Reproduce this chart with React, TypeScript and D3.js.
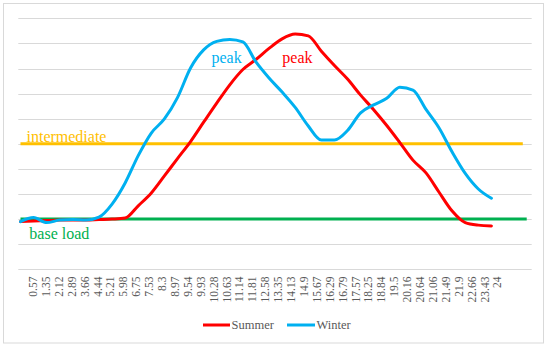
import React from "react";
import * as d3 from "d3";

const categories = ["0.57","1.35","2.12","2.89","3.66","4.44","5.21","5.98","6.75","7.53","8.3","8.97","9.54","9.93","10.28","10.63","11.14","11.81","12.58","13.35","14.13","14.9","15.67","16.29","16.79","17.57","18.25","18.84","19.5","20.16","20.64","21.06","21.49","21.9","22.66","23.43","24"];

const summer = [1.90,1.92,1.94,1.96,1.96,1.96,1.98,2.00,2.04,2.53,3.04,3.72,4.41,5.09,5.86,6.62,7.35,7.96,8.36,8.80,9.18,9.37,9.30,8.69,8.12,7.58,6.94,6.36,5.73,5.05,4.35,3.84,3.07,2.32,1.86,1.76,1.73];

const winter = [1.90,2.06,1.86,1.96,1.98,1.96,2.08,2.60,3.44,4.53,5.43,5.99,6.84,8.02,8.74,9.08,9.16,9.06,8.26,7.62,7.06,6.45,5.71,5.15,5.15,5.53,6.23,6.55,6.81,7.25,7.14,6.37,5.63,4.67,3.82,3.20,2.83];

// horizontal reference levels: [label, value, end index along category axis]
const levelNames = ["intermediate", "base load"];
const levelValues = [5, 2];
const levelEnds = [38.4, 38.7];

const yTicks = [0,1,2,3,4,5,6,7,8,9,10];

const seriesNames = ["Summer", "Winter"];
const seriesColors = ["#FF0000", "#00B0F0"];
const levelColors = ["#FFC000", "#00B050"];

export default function App() {
  const W = 550, H = 347;
  const plotLeft = 18.3, plotRight = 531.7;
  const y = d3.scaleLinear().domain([0, 10]).range([269.3, 18.3]);
  const xLine = d3.scaleLinear().domain([0, categories.length - 1]).range([20.5, 491.4]);
  const xLabel = d3.scaleLinear().domain([0, categories.length - 1]).range([33.3, 497.7]);

  const line = d3.line<number>()
    .x((_, i) => xLine(i))
    .y((v) => y(v))
    .curve(d3.curveMonotoneX);

  const font = "Liberation Serif, Times New Roman, DejaVu Serif, serif";

  return (
    <svg width={W} height={H} style={{ position: "absolute", left: 0, top: 0, fontFamily: font }}>
      <rect x={0} y={0} width={W} height={H} fill="#fff" />
      <rect x={3.5} y={3.5} width={540} height={339.5} fill="none" stroke="#D9D9D9" strokeWidth={1} />
      {yTicks.map((t) => (
        <line key={t} x1={plotLeft} x2={plotRight} y1={Math.round(y(t)) + 0.5} y2={Math.round(y(t)) + 0.5} stroke="#D9D9D9" strokeWidth={1} />
      ))}
      {levelValues.map((v, k) => (
        <line key={k} x1={xLine(0)} x2={xLine(levelEnds[k])} y1={y(v)} y2={y(v)} stroke={levelColors[k]} strokeWidth={3} />
      ))}
      <path d={line(summer) || ""} fill="none" stroke={seriesColors[0]} strokeWidth={3} strokeLinejoin="round" strokeLinecap="round" />
      <path d={line(winter) || ""} fill="none" stroke={seriesColors[1]} strokeWidth={3} strokeLinejoin="round" strokeLinecap="round" />
      <text x={26.5} y={141.5} fontSize={16} fill={levelColors[0]} style={{ fontFamily: font }}>{levelNames[0]}</text>
      <text x={29.3} y={239} fontSize={16} fill={levelColors[1]} style={{ fontFamily: font }}>{levelNames[1]}</text>
      <text x={211.5} y={63} fontSize={16} fill={seriesColors[1]} style={{ fontFamily: font }}>peak</text>
      <text x={282.3} y={62.5} fontSize={16} fill={seriesColors[0]} style={{ fontFamily: font }}>peak</text>
      {categories.map((c, i) => (
        <text key={c} transform={`translate(${xLabel(i)},276.5) rotate(-90)`} textAnchor="end" dy="0.33em" fontSize={11.5} fill="#595959" style={{ fontFamily: font }}>{c}</text>
      ))}
      <g>
        <line x1={203} x2={230} y1={325} y2={325} stroke={seriesColors[0]} strokeWidth={3} />
        <text x={231.5} y={329} fontSize={12.5} fill="#595959" style={{ fontFamily: font }}>{seriesNames[0]}</text>
        <line x1={287} x2={315} y1={325} y2={325} stroke={seriesColors[1]} strokeWidth={3} />
        <text x={316.5} y={329} fontSize={12.5} fill="#595959" style={{ fontFamily: font }}>{seriesNames[1]}</text>
      </g>
    </svg>
  );
}
